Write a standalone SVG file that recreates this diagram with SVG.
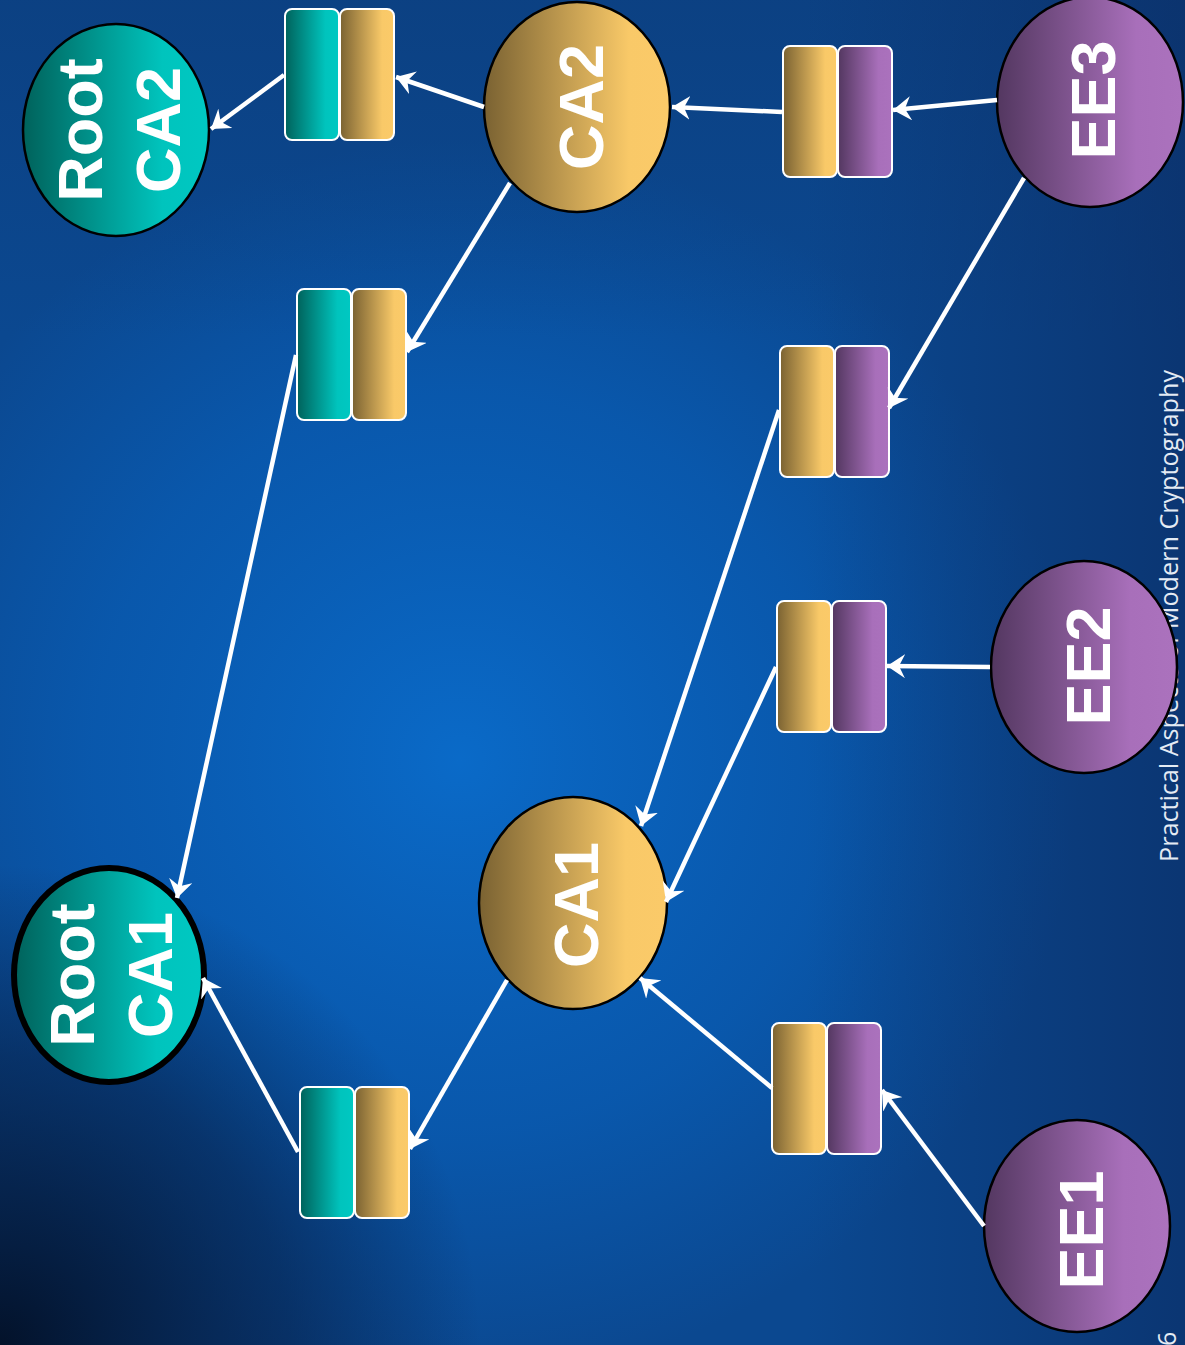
<svg xmlns="http://www.w3.org/2000/svg" width="1185" height="1345" viewBox="0 0 1185 1345">
  <defs>
    <style>
      .lbl { font-family: "Liberation Sans", Arial, sans-serif; font-weight: bold; font-size: 63px; fill: #ffffff; text-anchor: middle; }
      .node { stroke: #000000; stroke-width: 2.5; }
      .cert { stroke: #ffffff; stroke-width: 2; }
      .conn { stroke: #ffffff; stroke-width: 4.5; fill: none; marker-end: url(#arrow); }
      .foot { font-family: "Open Sans", "Noto Sans", sans-serif; font-size: 25px; fill: #e4ebf4; }
    </style>
    <linearGradient id="gTeal" x1="0" y1="0" x2="1" y2="0">
      <stop offset="0" stop-color="#00625b"/>
      <stop offset="0.75" stop-color="#00c4bd"/>
      <stop offset="1" stop-color="#00c8c2"/>
    </linearGradient>
    <linearGradient id="gGold" x1="0" y1="0" x2="1" y2="0">
      <stop offset="0" stop-color="#7a6232"/>
      <stop offset="0.78" stop-color="#f9c968"/>
      <stop offset="1" stop-color="#fbca69"/>
    </linearGradient>
    <linearGradient id="gPurple" x1="0" y1="0" x2="1" y2="0">
      <stop offset="0" stop-color="#533760"/>
      <stop offset="0.75" stop-color="#a86fba"/>
      <stop offset="1" stop-color="#ab72bd"/>
    </linearGradient>
    <radialGradient id="bgBright" cx="460" cy="760" r="620" gradientUnits="userSpaceOnUse">
      <stop offset="0" stop-color="#0a6ccb" stop-opacity="0.95"/>
      <stop offset="0.6" stop-color="#0862be" stop-opacity="0.6"/>
      <stop offset="1" stop-color="#0862be" stop-opacity="0"/>
    </radialGradient>
    <radialGradient id="bgDark" cx="0" cy="1345" r="480" gradientUnits="userSpaceOnUse">
      <stop offset="0" stop-color="#03122a" stop-opacity="1"/>
      <stop offset="0.6" stop-color="#062048" stop-opacity="0.6"/>
      <stop offset="1" stop-color="#062048" stop-opacity="0"/>
    </radialGradient>
    <linearGradient id="bgRight" x1="0" y1="0" x2="1" y2="0">
      <stop offset="0.68" stop-color="#0b2e66" stop-opacity="0"/>
      <stop offset="1" stop-color="#0b2e66" stop-opacity="0.7"/>
    </linearGradient>
    <linearGradient id="bgTop" x1="0" y1="0" x2="0" y2="1">
      <stop offset="0" stop-color="#0c3c7a" stop-opacity="0.6"/>
      <stop offset="0.25" stop-color="#0c3c7a" stop-opacity="0"/>
    </linearGradient>
    <marker id="arrow" viewBox="0 0 18 24" refX="18" refY="12" markerWidth="18" markerHeight="24" markerUnits="userSpaceOnUse" orient="auto">
      <path d="M18,12 L0,0 L6,12 L0,24 Z" fill="#ffffff"/>
    </marker>
  </defs>

  <g id="background">
    <rect x="0" y="0" width="1185" height="1345" fill="#0b4890"/>
    <rect x="0" y="0" width="1185" height="1345" fill="url(#bgBright)"/>
    <rect x="0" y="0" width="1185" height="1345" fill="url(#bgTop)"/>
    <rect x="0" y="0" width="1185" height="1345" fill="url(#bgRight)"/>
    <rect x="0" y="0" width="1185" height="1345" fill="url(#bgDark)"/>
  </g>

  <g id="footer">
    <text class="foot" transform="translate(1178,862) rotate(-90)" textLength="492" lengthAdjust="spacingAndGlyphs">Practical Aspects of Modern Cryptography</text>
    <text class="foot" transform="translate(1176,1346) rotate(-90)">6</text>
  </g>

  <g id="cert-rca2">
    <rect class="cert" x="285" y="9" width="54" height="131" rx="7" fill="url(#gTeal)"/>
    <rect class="cert" x="340" y="9" width="54" height="131" rx="7" fill="url(#gGold)"/>
  </g>
  <g id="cert-rca1-ca2">
    <rect class="cert" x="297" y="289" width="54" height="131" rx="7" fill="url(#gTeal)"/>
    <rect class="cert" x="352" y="289" width="54" height="131" rx="7" fill="url(#gGold)"/>
  </g>
  <g id="cert-rca1-ca1">
    <rect class="cert" x="300" y="1087" width="54" height="131" rx="7" fill="url(#gTeal)"/>
    <rect class="cert" x="355" y="1087" width="54" height="131" rx="7" fill="url(#gGold)"/>
  </g>
  <g id="cert-ca2-ee3">
    <rect class="cert" x="783" y="46" width="54" height="131" rx="7" fill="url(#gGold)"/>
    <rect class="cert" x="838" y="46" width="54" height="131" rx="7" fill="url(#gPurple)"/>
  </g>
  <g id="cert-ca1-ee3">
    <rect class="cert" x="780" y="346" width="54" height="131" rx="7" fill="url(#gGold)"/>
    <rect class="cert" x="835" y="346" width="54" height="131" rx="7" fill="url(#gPurple)"/>
  </g>
  <g id="cert-ca1-ee2">
    <rect class="cert" x="777" y="601" width="54" height="131" rx="7" fill="url(#gGold)"/>
    <rect class="cert" x="832" y="601" width="54" height="131" rx="7" fill="url(#gPurple)"/>
  </g>
  <g id="cert-ca1-ee1">
    <rect class="cert" x="772" y="1023" width="54" height="131" rx="7" fill="url(#gGold)"/>
    <rect class="cert" x="827" y="1023" width="54" height="131" rx="7" fill="url(#gPurple)"/>
  </g>

  <g id="root-ca2">
    <ellipse class="node" cx="116" cy="130" rx="93" ry="106" fill="url(#gTeal)"/>
    <g transform="translate(116,130) rotate(-90)">
      <text class="lbl" x="0" y="-14">Root</text>
      <text class="lbl" x="0" y="64">CA2</text>
    </g>
  </g>
  <g id="root-ca1">
    <ellipse cx="109" cy="975" rx="95" ry="107" fill="url(#gTeal)" stroke="#000000" stroke-width="6"/>
    <g transform="translate(109,975) rotate(-90)">
      <text class="lbl" x="0" y="-15">Root</text>
      <text class="lbl" x="0" y="63">CA1</text>
    </g>
  </g>
  <g id="ca2">
    <ellipse class="node" cx="577" cy="107" rx="93" ry="105" fill="url(#gGold)"/>
    <text class="lbl" transform="translate(577,107) rotate(-90)" x="0" y="26">CA2</text>
  </g>
  <g id="ca1">
    <ellipse class="node" cx="573" cy="903" rx="94" ry="106" fill="url(#gGold)"/>
    <text class="lbl" transform="translate(573,903) rotate(-90)" x="-2" y="25">CA1</text>
  </g>
  <g id="ee3">
    <ellipse class="node" cx="1090" cy="102" rx="93" ry="105" fill="url(#gPurple)"/>
    <text class="lbl" transform="translate(1090,102) rotate(-90)" x="2" y="25">EE3</text>
  </g>
  <g id="ee2">
    <ellipse class="node" cx="1084" cy="667" rx="93" ry="106" fill="url(#gPurple)"/>
    <text class="lbl" transform="translate(1084,667) rotate(-90)" x="1" y="26">EE2</text>
  </g>
  <g id="ee1">
    <ellipse class="node" cx="1077" cy="1226" rx="93" ry="106" fill="url(#gPurple)"/>
    <text class="lbl" transform="translate(1077,1226) rotate(-90)" x="-4" y="26">EE1</text>
  </g>

  <g id="connectors">
    <line class="conn" x1="484" y1="107" x2="396" y2="77"/>
    <line class="conn" x1="284" y1="75" x2="211" y2="129"/>
    <line class="conn" x1="510" y1="183" x2="407" y2="352"/>
    <line class="conn" x1="296" y1="355" x2="177" y2="898"/>
    <line class="conn" x1="507" y1="980" x2="410" y2="1149"/>
    <line class="conn" x1="298" y1="1152" x2="203" y2="978"/>
    <line class="conn" x1="997" y1="100" x2="893" y2="110"/>
    <line class="conn" x1="782" y1="112" x2="672" y2="107"/>
    <line class="conn" x1="1024" y1="178" x2="889" y2="408"/>
    <line class="conn" x1="779" y1="410" x2="641" y2="826"/>
    <line class="conn" x1="990" y1="667" x2="887" y2="666"/>
    <line class="conn" x1="776" y1="667" x2="666" y2="902"/>
    <line class="conn" x1="984" y1="1226" x2="882" y2="1090"/>
    <line class="conn" x1="772" y1="1088" x2="640" y2="978"/>
  </g>
</svg>
